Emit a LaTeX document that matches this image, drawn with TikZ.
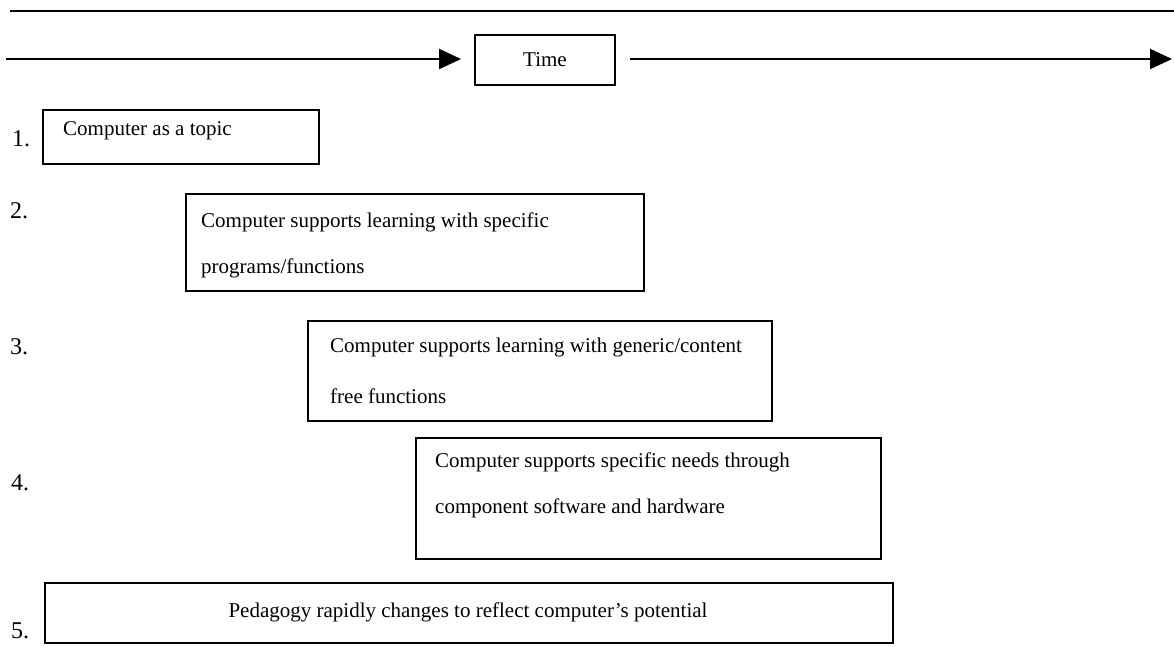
\documentclass[tikz,border=0pt]{standalone}
\usepackage{fontspec}
\setmainfont{Liberation Serif}
\usetikzlibrary{arrows.meta}
\begin{document}
\begin{tikzpicture}[x=1pt,y=-1pt,
  frame/.style={draw, line width=1.9pt, inner sep=0pt},
  txt/.style={font=\fontsize{21}{25}\selectfont, inner sep=0pt, anchor=west},
  num/.style={font=\fontsize{24}{28}\selectfont, inner sep=0pt, anchor=west},
  timearrow/.style={line width=2pt, -{Triangle[length=22pt,width=20pt]}}]
\useasboundingbox (0,0) rectangle (1174,647);

% rule across the top
\coordinate (ruleL) at (10,11);
\coordinate (ruleR) at (1174,11);
\draw[line width=2pt] (ruleL) -- (ruleR);

% time axis
\node[frame, font=\fontsize{21}{25}\selectfont, minimum width=140, minimum height=50] (time) at (545,60) {Time};
\coordinate (axisL) at (6,59);
\coordinate (axisR) at (1172,59);
\draw[timearrow, shorten >=13pt] (axisL) -- (time.west |- axisL);
\draw[timearrow, shorten <=14pt] (time.east |- axisR) -- (axisR);

% stage 1
\node[num] (n1) at (12,139) {1.};
\node[frame, anchor=north west, minimum width=276, minimum height=54] (s1) at (42,109) {};
\node[txt] (s1a) at (63,131) {Computer as a topic};

% stage 2
\node[num] (n2) at (10,211) {2.};
\node[frame, anchor=north west, minimum width=458, minimum height=97] (s2) at (185,193) {};
\node[txt] (s2a) at (201,222) {Computer supports learning with specific};
\node[txt] (s2b) at (201,268) {programs/functions};

% stage 3
\node[num] (n3) at (10,347) {3.};
\node[frame, anchor=north west, minimum width=464, minimum height=100] (s3) at (307,320) {};
\node[txt] (s3a) at (330,347) {Computer supports learning with generic/content};
\node[txt] (s3b) at (330,396) {free functions};

% stage 4
\node[num] (n4) at (11,483) {4.};
\node[frame, anchor=north west, minimum width=465, minimum height=121] (s4) at (415,437) {};
\node[txt] (s4a) at (435,462) {Computer supports specific needs through};
\node[txt] (s4b) at (435,508) {component software and hardware};

% stage 5
\node[num] (n5) at (11,631) {5.};
\node[frame, anchor=north west, minimum width=848, minimum height=60] (s5) at (44,582) {};
\node[txt, anchor=center] (s5a) at (468,612) {Pedagogy rapidly changes to reflect computer's potential};
\end{tikzpicture}
\end{document}
